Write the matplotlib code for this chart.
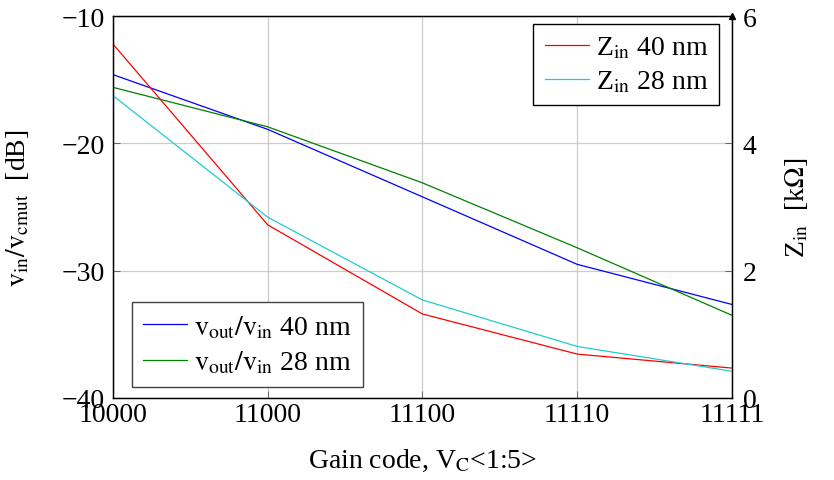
import matplotlib.pyplot as plt
import numpy as np

plt.rcParams["font.family"] = ["Liberation Serif", "DejaVu Serif"]
plt.rcParams["mathtext.fontset"] = "stix"

codes = ["10000", "11000", "11100", "11110", "11111"]

# voltage gain [dB], left axis
gain_40 = [-14.6, -18.9, -24.2, -29.5, -32.65]
gain_28 = [-15.6, -18.7, -23.1, -28.2, -33.5]

# input impedance [kOhm], right axis
zin_40 = [5.56, 2.72, 1.32, 0.69, 0.47]
zin_28 = [4.75, 2.84, 1.54, 0.81, 0.42]


def main():
    fig = plt.figure(figsize=(8.34, 4.81), dpi=100)
    ax = fig.add_axes([0.1355, 0.1705, 0.742, 0.794])
    x = np.arange(len(codes))

    ax.plot(x, gain_40, color="blue", lw=0.9, label=r"$\mathrm{v_{out}/v_{in}}$ 40 nm")
    ax.plot(x, gain_28, color="green", lw=0.9, label=r"$\mathrm{v_{out}/v_{in}}$ 28 nm")
    ax.set_xlim(0, len(codes) - 1)
    ax.set_ylim(-40, -10)
    ax.set_yticks([-40, -30, -20, -10])
    ax.set_yticklabels(["\u221240", "\u221230", "\u221220", "\u221210"])
    ax.set_xticks(x)
    ax.set_xticklabels(codes)
    ax.grid(True, color="#cccccc", lw=0.9)
    ax.tick_params(direction="in", labelsize=20, length=5, width=0.6, color="#555555")
    ax.tick_params(axis="y", pad=6)
    ax.tick_params(axis="x", pad=3)
    ax.set_xlabel(r"Gain code, V$_\mathrm{C}$<1:5>", fontsize=20, labelpad=14)
    ax.set_ylabel(r"$\mathrm{v_{in}/v_{cmut}}$  [dB]", fontsize=20, labelpad=22)
    for s in ax.spines.values():
        s.set_linewidth(1.0)

    ax2 = ax.twinx()
    ax2.plot(x, zin_40, color="red", lw=0.9, label=r"Z$_\mathrm{in}$ 40 nm")
    ax2.plot(x, zin_28, color="#22cccc", lw=0.9, label=r"Z$_\mathrm{in}$ 28 nm")
    ax2.set_ylim(0, 6)
    ax2.set_yticks([0, 2, 4, 6])
    ax2.tick_params(direction="in", labelsize=20, length=5, width=0.6, color="#555555", pad=8)
    ax2.set_ylabel(r"Z$_\mathrm{in}$  [k$\Omega$]", fontsize=20, labelpad=19)
    ax2.plot(1, 1, marker="^", color="black", ms=4, transform=ax2.transAxes, clip_on=False)

    leg1 = ax.legend(loc="lower left", bbox_to_anchor=(0.03, 0.03), fontsize=20,
                     fancybox=False, edgecolor="#444444", framealpha=1,
                     handlelength=1.6, handletextpad=0.25, borderpad=0.4, labelspacing=0.3,
                     borderaxespad=0)
    leg1.get_frame().set_linewidth(1.0)
    leg2 = ax2.legend(loc="upper right", bbox_to_anchor=(0.98, 0.98), fontsize=20,
                      fancybox=False, edgecolor="black", framealpha=1,
                      handlelength=1.6, handletextpad=0.25, borderpad=0.4, labelspacing=0.3,
                      borderaxespad=0)
    leg2.get_frame().set_linewidth(1.0)

    fig.savefig("out.png", dpi=100)


if __name__ == "__main__":
    main()
